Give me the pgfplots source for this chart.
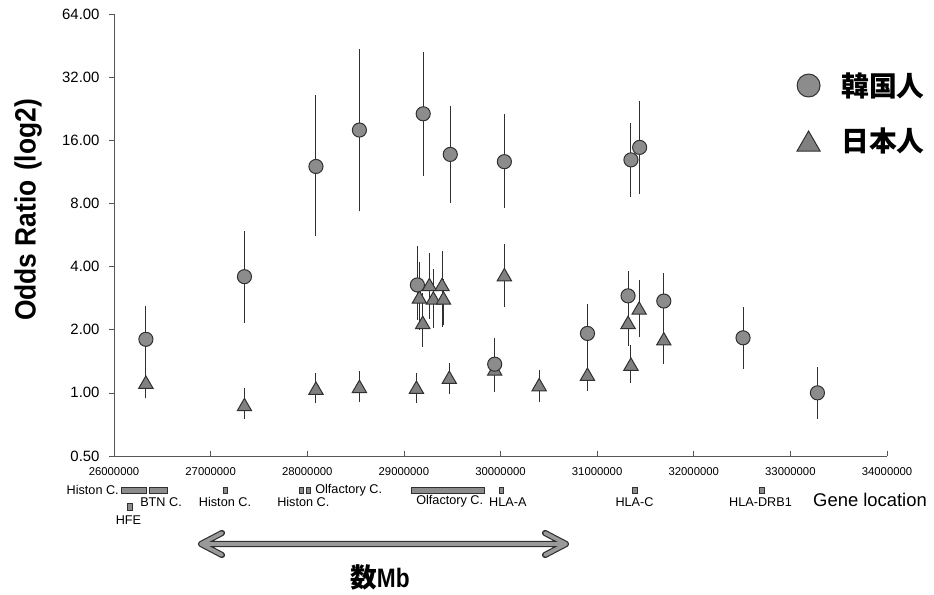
\documentclass[border=0pt]{standalone}
\usepackage{fontspec}
\setmainfont{Liberation Sans}
\newfontfamily\cjk{Noto Sans CJK JP}
\usepackage{pgfplots}
\pgfplotsset{compat=1.18}
\definecolor{mk}{HTML}{8C8C8C}
\definecolor{mkt}{HTML}{808080}
\definecolor{ed}{HTML}{303030}
\definecolor{axc}{HTML}{555555}
\definecolor{arr}{HTML}{9A9A9A}
\pgfplotsset{
  mylegimg/.style={legend image code/.code={\path (0pt,-12pt) (32.5pt,12pt); \draw[##1] plot coordinates {(10pt,#1)};}}
}
\tikzset{genebox/.style={fill=mk, draw=ed, line width=0.5pt}}
\begin{document}
\begin{tikzpicture}
\path[use as bounding box] (0,0) rectangle (700.5pt,446.25pt);
\begin{axis}[
  at={(85.5pt,104.25pt)}, anchor=south west,
  scale only axis, width=579.75pt, height=331.5pt,
  xmin=26, xmax=34, ymin=0.5, ymax=64,
  ymode=log, log basis y=2,
  axis lines=left, axis line style={-, draw=axc, line width=0.6pt},
  clip=false,
  xtick={26,27,28,29,30,31,32,33,34},
  xticklabels={26000000,27000000,28000000,29000000,30000000,31000000,32000000,33000000,34000000},
  ytick={0.5,1,2,4,8,16,32,64},
  yticklabels={0.50,1.00,2.00,4.00,8.00,16.00,32.00,64.00},
  minor tick num=0, yminorticks=false, xminorticks=false,
  xtick align=inside, ytick align=outside,
  major tick length=3.5pt,
  tick style={draw=axc, line width=0.5pt},
  xticklabel style={font=\fontsize{8.5}{10}\selectfont, yshift=-5.5pt},
  yticklabel style={font=\fontsize{11.2}{13}\selectfont, xshift=-3.8pt},
  legend style={draw=none, fill=none, at={(rel axis cs:0.8806,0.8756)}, anchor=north west,
    font=\cjk\bfseries\fontsize{20.8}{24}\selectfont, row sep=17.25pt, inner sep=0pt},
  legend cell align=left,
]
% error bars Korean
\addplot[draw=ed, line width=0.75pt, unbounded coords=jump, forget plot] coordinates {
(26.33,1.15) (26.33,2.60) (26.33,nan)
(27.35,2.16) (27.35,5.93) (27.35,nan)
(28.09,5.6) (28.09,26.2) (28.09,nan)
(28.54,7.33) (28.54,43.7) (28.54,nan)
(29.14,2.22) (29.14,5.0) (29.14,nan)
(29.20,10.85) (29.20,42.3) (29.20,nan)
(29.48,8.04) (29.48,23.3) (29.48,nan)
(29.94,1.01) (29.94,1.82) (29.94,nan)
(30.04,7.6) (30.04,21.4) (30.04,nan)
(30.90,1.30) (30.90,2.64) (30.90,nan)
(31.32,2.2) (31.32,3.83) (31.32,nan)
(31.35,8.63) (31.35,19.4) (31.35,nan)
(31.44,8.9) (31.44,24.6) (31.44,nan)
(31.69,1.9) (31.69,3.74) (31.69,nan)
(32.51,1.30) (32.51,2.58) (32.51,nan)
(33.28,0.75) (33.28,1.33)
};
% error bars Japanese
\addplot[draw=ed, line width=0.75pt, unbounded coords=jump, forget plot] coordinates {
(26.33,0.94) (26.33,1.3) (26.33,nan)
(27.35,0.75) (27.35,1.06) (27.35,nan)
(28.09,0.89) (28.09,1.24) (28.09,nan)
(28.54,0.905) (28.54,1.27) (28.54,nan)
(29.13,0.896) (29.13,1.25) (29.13,nan)
(29.16,2.0) (29.16,4.2) (29.16,nan)
(29.195,1.66) (29.195,3.0) (29.195,nan)
(29.264,2.25) (29.264,4.64) (29.264,nan)
(29.305,2.03) (29.305,3.89) (29.305,nan)
(29.395,2.07) (29.395,4.72) (29.395,nan)
(29.41,2.1) (29.41,3.5) (29.41,nan)
(29.47,0.985) (29.47,1.39) (29.47,nan)
(29.94,1.05) (29.94,1.5) (29.94,nan)
(30.04,2.56) (30.04,5.14) (30.04,nan)
(30.40,0.905) (30.40,1.28) (30.40,nan)
(30.90,1.02) (30.90,1.5) (30.90,nan)
(31.32,1.67) (31.32,2.6) (31.32,nan)
(31.35,1.11) (31.35,1.69) (31.35,nan)
(31.435,1.84) (31.435,3.46) (31.435,nan)
(31.69,1.37) (31.69,2.3)
};
% Japanese
\addplot[only marks, mark=triangle*, mark size=6.2pt, mark options={fill=mkt, draw=ed, line width=0.75pt}, forget plot] coordinates {
(26.33,1.10) (27.35,0.86) (28.09,1.03) (28.54,1.05) (29.13,1.04)
(29.16,2.80) (29.195,2.12) (29.264,3.21) (29.305,2.77) (29.395,3.21) (29.41,2.77)
(29.47,1.16) (29.94,1.27) (30.04,3.58) (30.40,1.07) (30.90,1.20)
(31.32,2.12) (31.35,1.34) (31.435,2.48) (31.69,1.77)
};
% Korean
\addplot[only marks, mark=*, mark size=5.3pt, mark options={fill=mk, draw=ed, line width=0.75pt}, forget plot] coordinates {
(26.33,1.80) (27.35,3.58) (28.09,12.0) (28.54,17.9) (29.14,3.27) (29.20,21.4)
(29.48,13.7) (29.94,1.37) (30.04,12.65) (30.90,1.92) (31.32,2.90) (31.35,12.9)
(31.44,14.8) (31.69,2.74) (32.51,1.83) (33.28,1.00)
};
\addlegendimage{mylegimg=0pt, only marks, mark=*, mark size=8.6pt, mark options={fill=mk, draw=ed, line width=0.75pt}}
\addlegendentry{韓国人}
\addlegendimage{mylegimg=-2.5pt, only marks, mark=triangle*, mark size=10pt, mark options={fill=mkt, draw=ed, line width=0.75pt}}
\addlegendentry{日本人}
% gene location boxes
\draw[genebox] (axis cs:26.072,0.3306) rectangle (axis cs:26.331,0.3553);
\draw[genebox] (axis cs:26.365,0.3306) rectangle (axis cs:26.556,0.3553);
\draw[genebox] (axis cs:26.138,0.2752) rectangle (axis cs:26.189,0.2982);
\draw[genebox] (axis cs:27.131,0.3306) rectangle (axis cs:27.173,0.3553);
\draw[genebox] (axis cs:27.915,0.3306) rectangle (axis cs:27.960,0.3553);
\draw[genebox] (axis cs:27.995,0.3306) rectangle (axis cs:28.036,0.3553);
\draw[genebox] (axis cs:29.082,0.3306) rectangle (axis cs:29.830,0.3553);
\draw[genebox] (axis cs:29.989,0.3306) rectangle (axis cs:30.030,0.3553);
\draw[genebox] (axis cs:31.365,0.3306) rectangle (axis cs:31.411,0.3553);
\draw[genebox] (axis cs:32.680,0.3306) rectangle (axis cs:32.729,0.3553);
\end{axis}
\begin{scope}[x=0.75pt, y=-0.75pt, shift={(0pt,446.25pt)}]
\node[rotate=90, font=\fontsize{22}{26}\selectfont\bfseries] at (28,210) {\scalebox{0.9}[1]{Odds Ratio\hspace{0.35em}(log2)}};
\begin{scope}[font=\fontsize{9.5}{11}\selectfont, inner sep=0pt]
\node[anchor=east] at (119,490) {Histon C.};
\node[anchor=west] at (140,501.7) {BTN C.};
\node at (128.5,520) {HFE};
\node at (225,501.7) {Histon C.};
\node[anchor=west] at (315,490) {Olfactory C.};
\node at (303.3,501.7) {Histon C.};
\node at (449.7,501.7) {Olfactory C.};
\node at (507.8,501.7) {HLA-A};
\node at (634.5,501.7) {HLA-C};
\node at (760.5,502) {HLA-DRB1};
\end{scope}
\node[font=\fontsize{13.8}{16}\selectfont, inner sep=0pt] at (870,500) {Gene location};
\draw[ed, line width=4.6pt, line cap=round, line join=round] (222,533) -- (201,544) -- (222,555) (201,544) -- (566,544) (545,533) -- (566,544) -- (545,555);
\draw[arr, line width=2.8pt, line cap=round, line join=round] (222,533) -- (201,544) -- (222,555) (201,544) -- (566,544) (545,533) -- (566,544) -- (545,555);
\node[font=\fontsize{20}{23}\selectfont\bfseries, inner sep=0pt] at (380,577) {{\cjk 数}\scalebox{0.85}[1]{Mb}};
\end{scope}
\end{tikzpicture}
\end{document}
